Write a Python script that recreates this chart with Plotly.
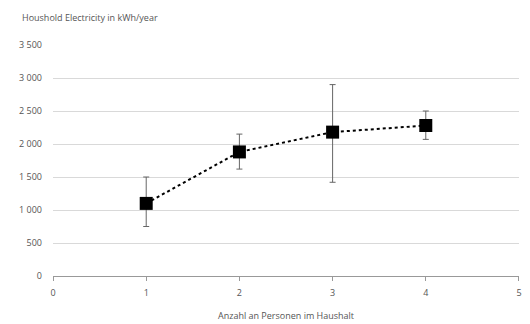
import plotly.graph_objects as go

persons = [1, 2, 3, 4]
electricity = [1100, 1880, 2180, 2280]
err_plus = [400, 270, 720, 220]
err_minus = [350, 260, 760, 210]

y_ticks = [0, 500, 1000, 1500, 2000, 2500, 3000, 3500]
y_tick_labels = ["0", "500", "1 000", "1 500", "2 000", "2 500", "3 000", "3 500"]
x_ticks = [0, 1, 2, 3, 4, 5]

fig = go.Figure()
fig.add_trace(go.Scatter(
    x=persons, y=electricity, mode="lines+markers",
    line=dict(color="black", width=2, dash="dot"),
    marker=dict(symbol="square", size=13, color="black"),
    error_y=dict(type="data", symmetric=False, array=err_plus, arrayminus=err_minus,
                 color="#666666", thickness=1, width=3),
    showlegend=False,
))

fig.update_layout(
    width=530, height=324,
    paper_bgcolor="white", plot_bgcolor="white",
    margin=dict(l=53, r=11, t=45, b=48),
    font=dict(family="Open Sans, DejaVu Sans", size=9, color="#555555"),
    title=dict(text="Houshold Electricity in kWh/year", xref="container", yref="container",
               x=22 / 530, y=1 - 18 / 324, xanchor="left", yanchor="middle",
               font=dict(size=9, color="#555555")),
)
fig.update_xaxes(range=[-0.0001, 5.0001], tickvals=x_ticks, showgrid=False, zeroline=False,
                 showline=True, linecolor="#999999", linewidth=1, automargin=False,
                 ticks="outside", ticklen=4, tickcolor="#999999", ticklabelstandoff=4,
                 title=dict(text="Anzahl an Personen im Haushalt", standoff=14,
                            font=dict(size=9, color="#555555")))
fig.update_yaxes(range=[0, 3500], tickvals=y_ticks, ticktext=y_tick_labels,
                 showgrid=True, gridcolor="#d9d9d9", gridwidth=1, zeroline=False,
                 showline=False, ticks="", ticklabelstandoff=10, automargin=False)

fig.write_html("out.html", config={"displayModeBar": False},
               post_script="document.body.style.margin='0';document.body.style.padding='0';")
